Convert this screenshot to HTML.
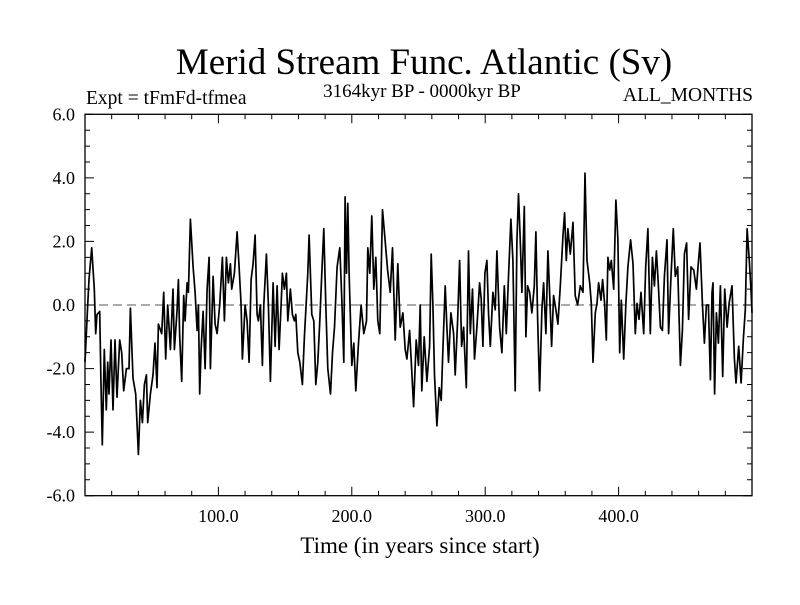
<!DOCTYPE html>
<html><head><meta charset="utf-8"><style>
body{margin:0;background:#fff;}
svg text{font-family:"Liberation Serif",serif;fill:#000;}
</style></head><body>
<svg id="chart" width="800" height="600" viewBox="0 0 800 600">
<rect width="800" height="600" fill="#fff"/>
<text x="424" y="74" font-size="37" text-anchor="middle">Merid Stream Func. Atlantic (Sv)</text>
<text x="86" y="104" font-size="19.5">Expt = tFmFd-tfmea</text>
<text x="422" y="97" font-size="19" text-anchor="middle">3164kyr BP - 0000kyr BP</text>
<text x="753" y="101" font-size="19.5" text-anchor="end">ALL_MONTHS</text>
<text x="420" y="553" font-size="23" text-anchor="middle">Time (in years since start)</text>
<g id="axes"></g>
<g id="series"></g>
</svg>
<script>
const years=[0,2,3,5,7,8,9,11,12,13,14.5,16,17,18,19.5,21,22.5,24,26,27.5,29,31,33,34,36,38,40,41.5,43,44.5,46,47,49,51,52.5,54,55,57.5,59,60.5,62,64,66,67,69,70,71,72.5,74,75,76.5,77.5,79,81,82.5,84,85,86,87,88.5,90,91.5,93,94,96,97.5,99,101,103,104.5,106,107.5,109,110,112,114,115.5,117,118,120,121.5,123,124.5,126,127.5,129,130,131.5,133,134,136,137.5,139,141,142.5,144,145.5,147,148,149.5,151,152,154,155.5,157,158,159.5,161,163,164.5,167,168,170,171.5,173,174.5,176,177.5,179,180.5,182,184,185.5,187,189,191,192.5,194,195,196,197,198,200,201.5,203,205,207,209,211,212,213.5,215,216.5,218,219.5,221,223,225,226.8,228.8,230.5,232.5,234.5,236.3,238.3,240,241.3,243.3,245,246.3,248.3,250,251.3,252.5,254.3,256.3,258.3,259.5,260.8,262,263.8,265.5,267,268.3,270,271.3,272.5,274.3,276.3,277.5,279.3,280.8,282.3,283.8,285.8,287.5,288.8,290.5,292,293.8,295.8,297,298.3,299.8,301.3,302.5,303.8,305.8,307.5,308.8,310.8,312.5,314.3,315.8,317.5,319.3,320.8,322.5,323.8,325,326.3,327.5,329.3,330.5,331.8,333.3,335,336.8,338,339.3,340.8,342.5,343.8,345.5,347,348.3,349.8,351.3,353,354.5,356.3,358.3,359.5,360.8,362,363.8,365.8,367.5,369.3,371.3,373.3,374.8,376.3,378.3,379.5,380.8,382.5,383.8,385,386.8,388,389.5,390.8,392,393.3,394.5,396.3,398,399.5,400.8,402,403.8,405.5,407,409,410.8,412.5,413.8,415.3,416.8,418.8,420.3,422,423.8,425.3,426.8,428.3,429.8,431.3,432.8,434.3,436.3,437.5,439.3,441,442.5,444.3,446.3,447.8,449.3,451,452.5,454.3,456.3,458.3,459.5,461,462.8,464.3,465.8,467.3,468.8,470,470.8,472,473.3,474.8,476.3,478,479.5,481.3,482.8,485,486.8,488,490,491.8,493.5,495,496.3,498,499.5,500];
const values=[-1.8,0.0,0.8,1.8,0.5,-0.9,-0.3,-0.2,-2.5,-4.4,-1.4,-3.3,-1.8,-2.8,-1.1,-3.3,-1.1,-2.9,-1.1,-1.5,-2.7,-2.0,-2.0,-0.1,-2.3,-2.8,-4.7,-3.0,-3.7,-2.5,-2.2,-3.7,-2.8,-2.2,-1.2,-2.6,-0.6,-0.9,0.4,-1.7,0.0,-1.4,0.5,-1.4,-0.2,0.8,-1.0,-2.4,0.3,-0.5,0.7,0.4,2.7,1.2,0.4,-0.8,0.0,-2.8,-1.4,-0.2,-2.0,0.5,1.5,-2.0,0.9,-0.6,-0.9,0.0,1.5,-0.5,1.5,0.7,1.3,0.5,1.0,2.3,1.2,0.0,-1.7,0.0,-0.5,-1.8,0.8,1.3,2.2,-0.3,-0.5,0.0,-1.9,0.0,1.6,0.0,-2.4,0.7,-1.3,0.6,-1.4,0.0,1.0,0.5,1.0,-0.5,0.5,-0.3,-0.5,-0.3,-1.5,-1.8,-2.5,-1.0,1.0,2.2,-0.3,-0.5,-2.5,-1.8,-0.5,1.0,2.4,0.0,-2.0,-2.8,-1.5,-0.7,1.2,1.8,0.2,-1.8,3.4,1.0,3.2,1.0,-1.9,-1.2,-2.7,-1.2,0.0,-0.9,-0.5,1.8,1.0,2.8,0.5,1.5,-0.5,-0.9,3.0,2.0,1.1,0.4,1.8,-1.1,1.3,-0.7,-0.25,-1.4,-1.7,-0.8,-2.1,-3.2,-1.1,-1.9,0.0,-2.7,-1.0,-2.4,-1.3,1.6,0.0,-2.2,-3.8,-2.6,-3.0,-1.4,0.6,-0.7,-1.8,-0.25,-0.9,-2.2,-0.5,1.4,-1.3,-0.7,-2.6,1.7,-0.9,0.5,-1.7,-0.7,0.7,0.2,-1.3,1.0,1.4,-0.25,-1.3,0.4,-0.15,1.7,-0.7,-1.5,0.6,-0.9,0.9,2.7,1.4,-2.7,2.0,3.5,2.0,0.4,3.1,-1.0,0.6,0.4,-0.25,0.6,2.3,-0.4,-2.7,-0.15,0.7,-0.9,1.7,0.4,-1.3,0.3,-0.15,-0.6,0.6,2.2,2.9,1.4,2.4,1.6,2.6,0.3,0.0,0.6,0.4,4.15,1.4,0.7,0.05,-1.8,-0.25,0.05,0.7,0.15,0.8,0.05,-1.1,1.5,1.1,1.4,0.5,3.3,2.05,-1.5,0.15,-1.7,0.05,1.2,2.05,1.3,-0.9,0.05,-0.45,0.4,-0.9,1.2,2.4,-0.9,1.5,0.6,1.7,0.6,-0.7,-0.8,0.9,2.05,-0.9,0.9,2.4,0.9,1.2,-1.9,-0.8,1.6,1.95,-0.45,1.2,1.1,0.5,1.2,1.95,0.05,-1.2,0.0,0.0,-2.35,0.4,0.7,-2.8,-0.25,-1.2,0.6,-2.25,0.5,-0.7,0.05,0.6,-1.7,-2.45,-1.3,-2.45,-1.1,-0.15,2.4,1.4,0.3,-0.25];
const xTickVals=[100,200,300,400];
const xTickLabels=["100.0","200.0","300.0","400.0"];
const yTickVals=[-6,-4,-2,0,2,4,6];
const yTickLabels=["-6.0","-4.0","-2.0","0.0","2.0","4.0","6.0"];

const X0=85,X1=752,Y0=495.7,Y1=114.3,XMIN=0,XMAX=500,YMIN=-6,YMAX=6;
const sx=v=>X0+(v-XMIN)/(XMAX-XMIN)*(X1-X0);
const sy=v=>Y0-(v-YMIN)/(YMAX-YMIN)*(Y0-Y1);
const NS="http://www.w3.org/2000/svg";
const axes=document.getElementById('axes'), ser=document.getElementById('series');
function mk(tag,attrs,parent){const e=document.createElementNS(NS,tag);for(const k in attrs)e.setAttribute(k,attrs[k]);parent.appendChild(e);return e;}

const zl=mk('line',{x1:X0,x2:X1,y1:sy(0),y2:sy(0),stroke:'#555','stroke-width':1,'stroke-dasharray':'9,5'},axes);



const frame=mk('rect',{x:X0,y:Y1,width:X1-X0,height:Y0-Y1,fill:'none',stroke:'#000','stroke-width':1.3},axes);



for(let v=0;v<=500;v+=20){
  const major=v%100===0, L=major?9:5, x=sx(v);
  const t=mk('path',{d:`M${x},${Y0}v${-L}M${x},${Y1}v${L}`,stroke:'#000','stroke-width':1},axes);
  
  
}
for(let v=-6;v<=6;v+=0.5){
  const major=Math.abs(v%2)<1e-9, L=major?9:5, y=sy(v);
  const t=mk('path',{d:`M${X0},${y}h${L}M${X1},${y}h${-L}`,stroke:'#000','stroke-width':1},axes);
  
  
}
xTickVals.forEach((v,i)=>{
  const t=mk('text',{x:sx(v),y:522,'font-size':18,'text-anchor':'middle'},axes);
  t.textContent=xTickLabels[i];
  
  
});
yTickVals.forEach((v,i)=>{
  const t=mk('text',{x:75,y:sy(v)+6,'font-size':18,'text-anchor':'end'},axes);
  t.textContent=yTickLabels[i];
  
  
});
const d=years.map((yr,i)=>(i?'L':'M')+sx(yr).toFixed(1)+','+sy(values[i]).toFixed(1)).join('');
const line=mk('path',{d:d,fill:'none',stroke:'#000','stroke-width':1.7,'stroke-linejoin':'round'},ser);


</script>
</body></html>
